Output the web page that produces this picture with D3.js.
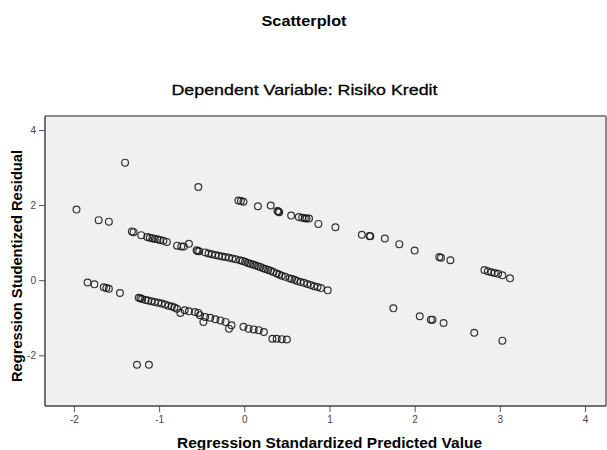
<!DOCTYPE html>
<html>
<head>
<meta charset="utf-8">
<script src="https://cdn.jsdelivr.net/npm/d3@7"></script>
<style>
  body { margin: 0; background: #fff; }
  svg text { font-family: "Liberation Sans", Arial, sans-serif; }
</style>
</head>
<body>
<div id="wrapper"></div>
<script>
// 1. Data
const predicted = [
  -1.40, -1.97, -1.71, -1.59, -1.32, -1.30, -1.21,
  -1.14, -1.11, -1.08, -1.05, -1.02, -0.99, -0.95, -0.91,
  -0.79, -0.74, -0.71, -0.65,
  -0.56, -0.55, -0.53, -0.46, -0.42, -0.38, -0.34, -0.30, -0.26, -0.22, -0.18, -0.14, -0.10, -0.05, -0.02,
  0.01, 0.04, 0.07, 0.10, 0.13, 0.16, 0.19, 0.22, 0.25, 0.28, 0.31, 0.34, 0.38, 0.41, 0.44, 0.48,
  0.53, 0.56, 0.59, 0.62, 0.66, 0.70, 0.74, 0.78, 0.82, 0.86, 0.90, 0.98,
  -0.54, -0.07, -0.04, -0.01, 0.16, 0.31, 0.39, 0.40, 0.41, 0.55, 0.64, 0.68, 0.71, 0.73, 0.76,
  0.87, 1.07, 1.38, 1.47, 1.48, 1.65, 1.82, 2.00, 2.29, 2.31, 2.42,
  2.82, 2.86, 2.90, 2.94, 2.98, 3.03, 3.12,
  -1.84, -1.76, -1.65, -1.62, -1.59, -1.46,
  -1.24, -1.22, -1.20, -1.16, -1.13, -1.09, -1.05, -1.01, -0.97, -0.93, -0.89, -0.85, -0.82,
  -0.79, -0.75, -0.70, -0.65, -0.58, -0.54,
  -0.52, -0.46, -0.40, -0.34, -0.28, -0.22, -0.15, -0.48, -0.18,
  -0.01, 0.05, 0.11, 0.17, 0.23, 0.33, 0.38, 0.44, 0.50,
  1.75, 2.06, 2.19, 2.21, 2.34, 2.70, 3.03,
  -1.26, -1.12
];
const residual = [
  3.13, 1.88, 1.60, 1.56, 1.30, 1.28, 1.20,
  1.15, 1.13, 1.12, 1.10, 1.09, 1.07, 1.05, 1.02,
  0.92, 0.90, 0.90, 0.97,
  0.80, 0.78, 0.77, 0.74, 0.71, 0.69, 0.67, 0.65, 0.63, 0.62, 0.60, 0.58, 0.56, 0.53, 0.51,
  0.49, 0.46, 0.44, 0.42, 0.40, 0.37, 0.35, 0.32, 0.30, 0.27, 0.25, 0.22, 0.18, 0.15, 0.12, 0.09,
  0.05, 0.03, 0.01, -0.02, -0.05, -0.07, -0.10, -0.13, -0.16, -0.18, -0.21, -0.27,
  2.48, 2.12, 2.11, 2.09, 1.97, 1.99, 1.84, 1.83, 1.81, 1.72, 1.68, 1.66, 1.65, 1.64, 1.64,
  1.50, 1.41, 1.21, 1.18, 1.17, 1.11, 0.96, 0.79, 0.62, 0.60, 0.53,
  0.27, 0.24, 0.21, 0.19, 0.17, 0.13, 0.05,
  -0.06, -0.11, -0.19, -0.21, -0.23, -0.34,
  -0.47, -0.48, -0.50, -0.53, -0.54, -0.56, -0.58, -0.60, -0.62, -0.65, -0.68, -0.70, -0.73,
  -0.76, -0.87, -0.80, -0.83, -0.85, -0.87,
  -0.93, -0.98, -1.00, -1.04, -1.07, -1.11, -1.20, -1.11, -1.29,
  -1.24, -1.29, -1.31, -1.33, -1.38, -1.56, -1.56, -1.57, -1.58,
  -0.75, -0.96, -1.05, -1.05, -1.14, -1.40, -1.61,
  -2.25, -2.25
];
const xTicks = [-2, -1, 0, 1, 2, 3, 4];
const yTicks = [-2, 0, 2, 4];

const dataset = predicted.map((p, i) => ({ x: p, y: residual[i] }));

// 2. Dimensions
const width = 607, height = 450;
const margin = { top: 116, right: 1, bottom: 44, left: 45 };
const boundedWidth = width - margin.left - margin.right;
const boundedHeight = height - margin.top - margin.bottom;

// 3. Canvas
const svg = d3.select("#wrapper").append("svg")
  .attr("width", width)
  .attr("height", height);

const bounds = svg.append("g")
  .attr("transform", `translate(${margin.left},${margin.top})`);

// 4. Scales
const xScale = d3.scaleLinear().domain([-2.34, 4.247]).range([0, boundedWidth]);
const yScale = d3.scaleLinear().domain([-3.35, 4.373]).range([boundedHeight, 0]);

// plot background + frame
bounds.append("rect")
  .attr("width", boundedWidth)
  .attr("height", boundedHeight)
  .attr("fill", "#f0f0f0");
bounds.append("line")
  .attr("x1", 0).attr("x2", boundedWidth).attr("y1", 0).attr("y2", 0)
  .attr("stroke", "#8a8a8a").attr("stroke-width", 2);
bounds.append("line")
  .attr("x1", boundedWidth).attr("x2", boundedWidth).attr("y1", 0).attr("y2", boundedHeight)
  .attr("stroke", "#8a8a8a").attr("stroke-width", 2);

// 5. Points
bounds.selectAll("circle")
  .data(dataset)
  .enter().append("circle")
    .attr("cx", d => xScale(d.x))
    .attr("cy", d => yScale(d.y))
    .attr("r", 3.4)
    .attr("fill", "none")
    .attr("stroke", "#111")
    .attr("stroke-opacity", 0.85)
    .attr("stroke-width", 1.2);

// 6. Axes
const fmt = d => String(d); // plain hyphen minus, like the original
const xAxis = bounds.append("g")
  .attr("transform", `translate(0,${boundedHeight})`)
  .call(d3.axisBottom(xScale).tickValues(xTicks).tickSize(6).tickPadding(4).tickFormat(fmt));
const yAxis = bounds.append("g")
  .call(d3.axisLeft(yScale).tickValues(yTicks).tickSize(6).tickPadding(3).tickFormat(fmt));

[xAxis, yAxis].forEach(ax => {
  ax.select(".domain").remove();
  ax.selectAll(".tick line").attr("stroke", "#555");
  ax.selectAll(".tick text")
    .attr("fill", "#444")
    .style("font-size", "10px")
    .style("font-family", '"Liberation Sans", Arial, sans-serif');
});

bounds.append("line")
  .attr("x1", 0).attr("x2", 0).attr("y1", 0).attr("y2", boundedHeight)
  .attr("stroke", "#444").attr("stroke-width", 1.5);
bounds.append("line")
  .attr("x1", 0).attr("x2", boundedWidth).attr("y1", boundedHeight).attr("y2", boundedHeight)
  .attr("stroke", "#444").attr("stroke-width", 1.5);

// titles
svg.append("text")
  .attr("x", 304).attr("y", 26)
  .attr("text-anchor", "middle")
  .attr("textLength", 85).attr("lengthAdjust", "spacingAndGlyphs")
  .style("font-size", "15px").style("font-weight", "bold")
  .text("Scatterplot");

svg.append("text")
  .attr("x", 304.5).attr("y", 95)
  .attr("text-anchor", "middle")
  .attr("textLength", 266).attr("lengthAdjust", "spacingAndGlyphs")
  .style("font-size", "15px")
  .style("stroke", "#000").style("stroke-width", 0.3)
  .text("Dependent Variable: Risiko Kredit");

svg.append("text")
  .attr("x", 329.5).attr("y", 448)
  .attr("text-anchor", "middle")
  .attr("textLength", 305).attr("lengthAdjust", "spacingAndGlyphs")
  .style("font-size", "15px").style("font-weight", "bold")
  .text("Regression Standardized Predicted Value");

svg.append("text")
  .attr("transform", "translate(22,266) rotate(-90)")
  .attr("text-anchor", "middle")
  .attr("textLength", 232).attr("lengthAdjust", "spacingAndGlyphs")
  .style("font-size", "15px").style("font-weight", "bold")
  .text("Regression Studentized Residual");
</script>
</body>
</html>
